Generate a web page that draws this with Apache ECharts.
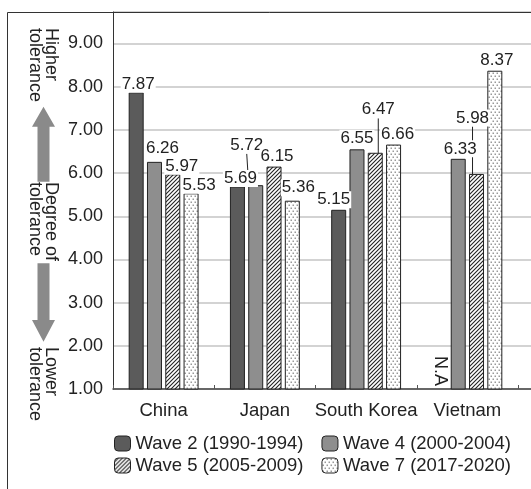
<!DOCTYPE html>
<html><head><meta charset="utf-8">
<script src="https://cdn.jsdelivr.net/npm/echarts@6/dist/echarts.min.js"></script>
<style>html,body{margin:0;padding:0;background:#fff}#c{width:531px;height:489px}</style>
</head><body><div id="c"></div>
<script>
// ---------------- data ----------------
const categories = ['China', 'Japan', 'South Korea', 'Vietnam'];
const seriesNames = ['Wave 2 (1990-1994)', 'Wave 4 (2000-2004)', 'Wave 5 (2005-2009)', 'Wave 7 (2017-2020)'];
const wave2 = [7.87, 5.69, 5.15, null];
const wave4 = [6.26, 5.72, 6.55, 6.33];
const wave5 = [5.97, 6.15, 6.47, 5.98];
const wave7 = [5.53, 5.36, 6.66, 8.37];
const yTickLabels = ['1.00', '2.00', '3.00', '4.00', '5.00', '6.00', '7.00', '8.00', '9.00'];
const naText = 'N.A';
const sideTexts = ['Higher\ntolerance', 'Degree of\ntolerance', 'Lower\ntolerance'];

// ---------------- style / layout ----------------
const yMin = 1, yMax = 9.73;
const sans = '"Liberation Sans", Arial, Helvetica, sans-serif';
const narrow = '"Liberation Sans Narrow", "Arial Narrow", "Liberation Sans", Arial, sans-serif';
const ink = '#222';
// label nudges [dx, dy] per series per category
const labelShift = [
  [[2, 2], [3, 2], [-5, 0], [0, 0]],
  [[8, -4], [-9, -30], [0, -1], [2, 0]],
  [[9, 2], [3, 0], [3, -33], [-4, -46]],
  [[8, 2], [6, -3], [4, 0], [2, 0]]
];
const leader = [
  [false, false, false, false],
  [false, true, false, false],
  [false, false, true, true],
  [false, false, false, false]
];

function hatchPattern() {
  const c = document.createElement('canvas'); c.width = 4; c.height = 4;
  const g = c.getContext('2d');
  g.fillStyle = '#fff'; g.fillRect(0, 0, 4, 4);
  g.strokeStyle = '#222'; g.lineWidth = 1.1;
  g.beginPath();
  g.moveTo(-1, 5); g.lineTo(5, -1);
  g.moveTo(-1, 1); g.lineTo(1, -1);
  g.moveTo(3, 5); g.lineTo(5, 3);
  g.stroke();
  return c;
}
function dotPattern() {
  const c = document.createElement('canvas'); c.width = 4; c.height = 6;
  const g = c.getContext('2d');
  g.fillStyle = '#fff'; g.fillRect(0, 0, 4, 6);
  g.fillStyle = '#9a9a9a';
  g.fillRect(0.5, 0.5, 1.5, 1.5);
  g.fillRect(2.5, 3.5, 1.5, 1.5);
  return c;
}
const fills = [
  '#5b5b5b',
  '#8e8e8e',
  { image: hatchPattern(), repeat: 'repeat' },
  { image: dotPattern(), repeat: 'repeat' }
];
const allValues = [wave2, wave4, wave5, wave7];

function makeSeries(si) {
  const vals = allValues[si];
  return {
    name: seriesNames[si], type: 'bar', xAxisIndex: 0, yAxisIndex: 0,
    barWidth: 15, barGap: '22%',
    itemStyle: { color: fills[si], borderColor: ink, borderWidth: 1 },
    label: {
      show: true, position: 'top', distance: 1.5,
      fontFamily: narrow, fontSize: 17, color: ink,
      backgroundColor: '#fff', padding: [0, 1],
      formatter: p => (typeof p.value === 'number' ? p.value.toFixed(2) : p.value)
    },
    labelLine: { show: false, lineStyle: { color: ink, width: 1 } },
    labelLayout: p => ({ dx: labelShift[si][p.dataIndex][0], dy: labelShift[si][p.dataIndex][1] }),
    data: vals.map((v, i) => {
      if (v == null) {
        return {
          value: yMin,
          itemStyle: { borderWidth: 0 },
          label: {
            formatter: naText, rotate: -90, align: 'right', verticalAlign: 'middle',
            distance: 2, backgroundColor: 'transparent', fontFamily: sans, fontSize: 18
          }
        };
      }
      return leader[si][i] ? { value: v, labelLine: { show: true } } : v;
    })
  };
}

function arrow(up) {
  const cx = 43.5, hw = 11.5, sw = 6;
  let pts;
  if (up) {
    const tip = 106.7, hb = 126.7, sb = 181.7;
    pts = [[cx, tip], [cx + hw, hb], [cx + sw, hb], [cx + sw, sb], [cx - sw, sb], [cx - sw, hb], [cx - hw, hb]];
  } else {
    const st = 263.3, hb = 320, tip = 341.7;
    pts = [[cx - sw, st], [cx + sw, st], [cx + sw, hb], [cx + hw, hb], [cx, tip], [cx - hw, hb], [cx - sw, hb]];
  }
  return { type: 'polygon', shape: { points: pts }, style: { fill: '#8a8a8a' }, z: 100 };
}
function sideText(txt, y) {
  return {
    type: 'text', x: 59, y: y, rotation: -Math.PI / 2, z: 100,
    style: { text: txt, fontSize: 18, fontFamily: sans, lineHeight: 16, fill: ink, align: 'left', verticalAlign: 'top' }
  };
}

const chart = echarts.init(document.getElementById('c'), null, { renderer: 'canvas' });
chart.setOption({
  animation: false,
  backgroundColor: '#fff',
  grid: [
    { left: 113, right: 13, top: 12, bottom: 100, containLabel: false, outerBoundsMode: 'none' },
    { left: 113, right: 0, top: 12, bottom: 100, containLabel: false, outerBoundsMode: 'none' }
  ],
  xAxis: [
    {
      type: 'category', gridIndex: 0, data: categories,
      axisLine: { show: false },
      axisTick: { show: true, inside: true, length: 4, lineStyle: { color: '#555', width: 1 } },
      axisLabel: { interval: 0, fontSize: 18.5, fontFamily: sans, color: ink, margin: 12, hideOverlap: false },
      splitLine: { show: false }
    },
    {
      type: 'value', gridIndex: 1, min: 0, max: 1,
      axisLine: { show: true, onZero: false, lineStyle: { color: '#444', width: 1.5 } },
      axisTick: { show: false }, axisLabel: { show: false }, splitLine: { show: false }
    }
  ],
  yAxis: [
    {
      type: 'value', gridIndex: 0, min: yMin, max: yMax, interval: 1,
      axisLine: { show: true, lineStyle: { color: '#333', width: 1 } },
      axisTick: { show: false },
      splitLine: { show: false },
      axisLabel: {
        fontSize: 18, fontFamily: sans, color: ink, margin: 10,
        formatter: v => {
          const k = Math.round(v);
          return Math.abs(v - k) < 1e-6 && k >= 1 && k <= yTickLabels.length ? yTickLabels[k - 1] : '';
        }
      }
    },
    {
      type: 'value', gridIndex: 1, min: yMin, max: yMax, interval: 1,
      axisLine: { show: false }, axisTick: { show: false }, axisLabel: { show: false },
      splitLine: { show: true, lineStyle: { color: '#c4c4c4', width: 1.5 } }
    }
  ],
  legend: [
    {
      data: seriesNames.slice(0, 2), left: 114, top: 434, padding: 0, itemGap: 18,
      itemWidth: 16, itemHeight: 15, selectedMode: false,
      itemStyle: { borderColor: ink, borderWidth: 1 },
      textStyle: { fontSize: 18.5, fontFamily: sans, color: ink }
    },
    {
      data: seriesNames.slice(2, 4), left: 114, top: 456, padding: 0, itemGap: 18,
      itemWidth: 16, itemHeight: 15, selectedMode: false,
      itemStyle: { borderColor: ink, borderWidth: 1 },
      textStyle: { fontSize: 18.5, fontFamily: sans, color: ink }
    }
  ],
  series: [0, 1, 2, 3].map(makeSeries),
  graphic: [
    { type: 'polyline', shape: { points: [[7.5, 489], [7.5, 12.5], [531, 12.5]] }, style: { stroke: '#333', lineWidth: 1, fill: null }, z: 100 },
    sideText(sideTexts[0], 28),
    sideText(sideTexts[1], 182),
    sideText(sideTexts[2], 347),
    arrow(true),
    arrow(false)
  ]
});
</script>
</body></html>
